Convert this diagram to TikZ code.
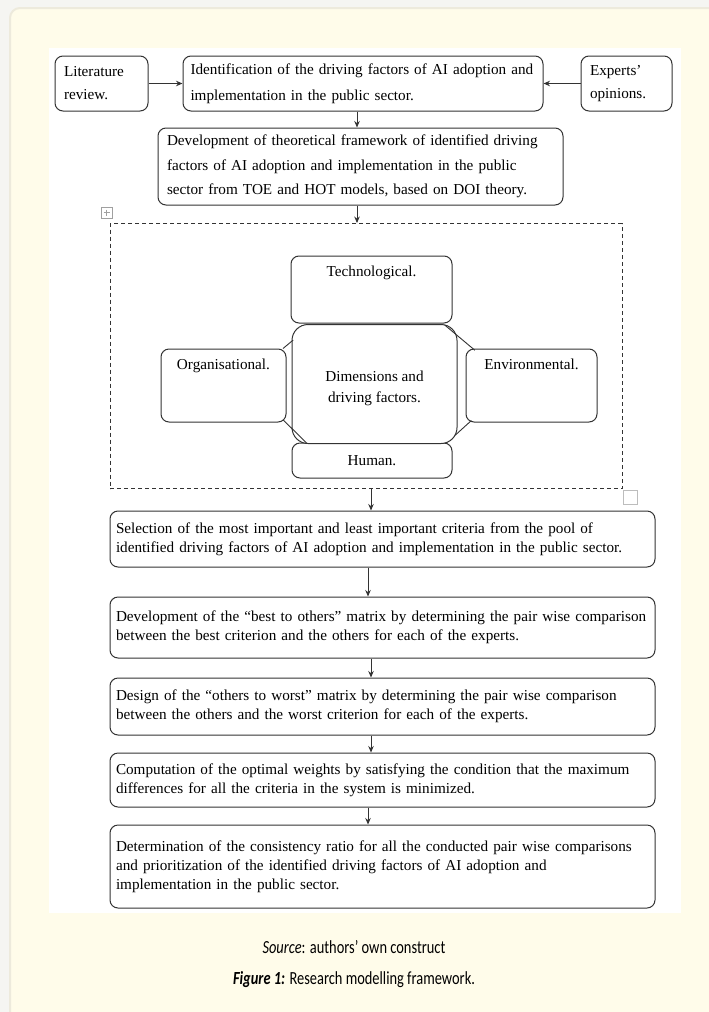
\documentclass[tikz,border=0pt]{standalone}
\usepackage{fontspec}
\setmainfont{Liberation Serif}
\newfontfamily\capfont{Carlito}
\usetikzlibrary{arrows.meta,calc}
\definecolor{cream}{HTML}{FFFCEA}
\definecolor{pagebg}{HTML}{F5F5F2}
\definecolor{panelline}{HTML}{EDEADC}
\definecolor{linec}{HTML}{333333}
\definecolor{handlec}{HTML}{A0A0A0}
\newcommand{\jl}[1]{\makebox[\linewidth][s]{#1}}
\begin{document}
\begin{tikzpicture}[x=1pt,y=-1pt,
  box/.style={draw=linec, line width=1pt, rounded corners=8pt, fill=white, inner sep=0pt},
  tx/.style={font=\fontsize{15.2}{19}\selectfont},
  arr/.style={-{Stealth[length=6.5pt,width=5.5pt]}, line width=0.9pt, draw=linec},
  conn/.style={line width=0.9pt, draw=linec},
  wide/.style={box, tx, minimum width=545pt, text width=533pt, inner xsep=6pt, align=left},
  capt/.style={font=\capfont\fontsize{18.5}{21}\selectfont, inner sep=0pt},
]
\useasboundingbox (0,0) rectangle (709,1012);
\fill[pagebg] (0,0) rectangle (709,1012);
\draw[fill=cream, draw=panelline, line width=2pt, rounded corners=10pt] (10,8) rectangle (735,1040);
\fill[white] (49,48) rectangle (681,913);

% top row
\node[box, tx, minimum width=93pt, minimum height=55pt, text width=75pt, inner xsep=9pt, align=left,
      font=\fontsize{15.2}{23}\selectfont] (lit) at (101.5,83.5) {Literature\\review.};
\node[box, tx, minimum width=360pt, minimum height=55pt, text width=345pt, inner xsep=7.5pt, align=left,
      font=\fontsize{15.2}{26}\selectfont] (ident) at (363,83.5)
  {Identification of the driving factors of AI adoption and\\implementation in the public sector.};
\node[box, tx, minimum width=91pt, minimum height=55pt, text width=73pt, inner xsep=9pt, align=left,
      font=\fontsize{15.2}{23}\selectfont] (exp) at (626.5,83.5) {Experts’\\opinions.};

\node[box, tx, minimum width=405pt, minimum height=77pt, text width=387pt, inner xsep=9pt, align=left,
      font=\fontsize{15.2}{24.5}\selectfont] (dev) at (360.5,166.5)
  {\jl{Development of theoretical framework of identified driving}\\
   \jl{factors of AI adoption and implementation in the public}\\
   sector from TOE and HOT models, based on DOI theory.};

% dashed frame
\node[draw=linec, line width=0.9pt, dash pattern=on 4pt off 3pt, minimum width=512pt, minimum height=265pt,
      inner sep=0pt] (frame) at (366,356) {};

% word handles
\draw[handlec, line width=0.6pt] (101,207) rectangle (112,218);
\draw[handlec, line width=0.6pt] (106.5,209.5) -- (106.5,215.5) (103.5,212.5) -- (109.5,212.5);
\draw[draw=handlec!70, line width=0.6pt] (623,490) rectangle (637,504);

% cluster
\node[box, minimum width=161pt, minimum height=67pt,
      label={[tx, anchor=north, inner sep=0pt, yshift=-10pt]north:Technological.}] (tech) at (371.5,289.5) {};
\node[box, minimum width=160pt, minimum height=35pt, tx] (hum) at (372,460.5) {Human.};
\node[box, minimum width=125pt, minimum height=73pt,
      label={[tx, anchor=north, inner sep=0pt, yshift=-10pt]north:Organisational.}] (org) at (223.5,385.5) {};
\node[box, minimum width=131pt, minimum height=73pt,
      label={[tx, anchor=north, inner sep=0pt, yshift=-10pt]north:Environmental.}] (env) at (531.5,385.5) {};
\node[box, rounded corners=16pt, minimum width=165pt, minimum height=119pt, tx, align=center,
      font=\fontsize{15.2}{21}\selectfont] (ctr) at (374.5,384) {\\[-2pt]Dimensions and\\driving factors.};

\draw[conn] ($(org.north east)+(-3.5,0)$) -- ($(ctr.north west)+(1.7,16)$);
\draw[conn] ($(org.south east)+(-3.5,-2.8)$) -- ($(ctr.south west)+(15,-1)$);
\draw[conn] ($(ctr.north east)+(-12.8,1)$) -- ($(env.north west)+(9.3,1.7)$);
\draw[conn] ($(ctr.south east)+(-2.4,-8.7)$) -- ($(env.south west)+(5.9,-2)$);

% lower boxes
\node[wide, minimum height=56pt] (sel) at (382.5,539)
  {\jl{Selection of the most important and least important criteria from the pool of}\\
   identified driving factors of AI adoption and implementation in the public sector.};
\node[wide, minimum height=61pt] (best) at (382.5,627.5)
  {\jl{Development of the “best to others” matrix by determining the pair wise comparison}\\
   between the best criterion and the others for each of the experts.};
\node[wide, minimum height=57pt] (wrst) at (382.5,706.5)
  {\jl{Design of the “others to worst” matrix by determining the pair wise comparison}\\
   between the others and the worst criterion for each of the experts.};
\node[wide, minimum height=54pt] (comp) at (382.5,780)
  {\jl{Computation of the optimal weights by satisfying the condition that the maximum}\\
   differences for all the criteria in the system is minimized.};
\node[wide, minimum height=83pt] (det) at (382.5,866.5)
  {\jl{Determination of the consistency ratio for all the conducted pair wise comparisons}\\
   \jl{and prioritization of the identified driving factors of AI adoption and}\\
   implementation in the public sector.};

% arrow columns
\coordinate (cA) at (357,0);
\coordinate (cB) at (371,0);
\coordinate (cC) at (368,0);

\draw[arr] (lit.east) -- (ident.west);
\draw[arr] (exp.west) -- (ident.east);
\draw[arr] (ident.south -| cA) -- (dev.north -| cA);
\draw[arr] (dev.south -| cA) -- (frame.north -| cA);
\draw[arr] (frame.south -| cB) -- (sel.north -| cB);
\draw[arr] (sel.south -| cC) -- (best.north -| cC);
\draw[arr] (best.south -| cB) -- (wrst.north -| cB);
\draw[arr] (wrst.south -| cB) -- (comp.north -| cB);
\draw[arr] (comp.south -| cC) -- (det.north -| cC);

% caption
\node[capt] (src) at (354,947) {\scalebox{0.78}[1]{\itshape Source\upshape: authors’ own construct}};
\node[capt] (fig) at (354,980) {\scalebox{0.78}[1]{\bfseries\itshape Figure 1:\mdseries\upshape{} Research modelling framework.}};
\end{tikzpicture}
\end{document}
